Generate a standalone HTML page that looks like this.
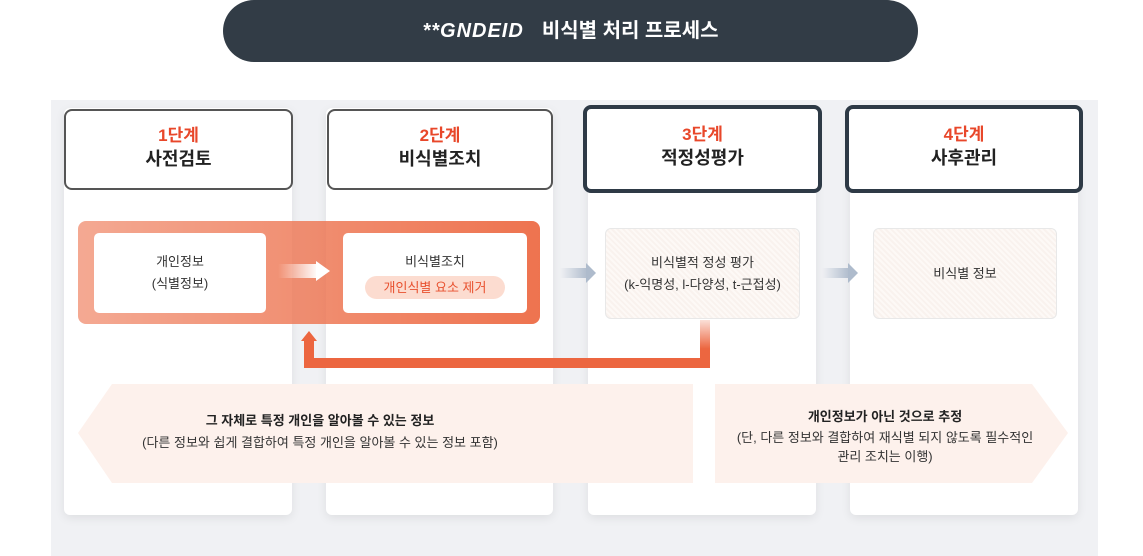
<!DOCTYPE html>
<html><head><meta charset="utf-8"><style>
*{margin:0;padding:0;box-sizing:border-box}
body{width:1143px;height:556px;background:#fff;position:relative;overflow:hidden;font-family:"Liberation Sans","Noto Sans CJK KR",sans-serif;color:#333}
.a{position:absolute}
.col{position:absolute;top:108px;height:407px;background:#fff;border-radius:6px;box-shadow:0 3px 10px rgba(0,0,0,.08)}
.hd{position:absolute;background:#fff;text-align:center;border-radius:8px}
.hd .n{color:#e8472a;font-size:17px;font-weight:bold;line-height:22px}
.hd .t{color:#222;font-size:18px;font-weight:bold;line-height:24px}
.wb{position:absolute;background:#fff;border-radius:5px;text-align:center;font-size:13px;color:#333;display:flex;flex-direction:column;justify-content:center;align-items:center;line-height:22px}
.hb{position:absolute;border-radius:6px;border:1px solid #e8e8e8;background:repeating-linear-gradient(45deg,#fdf9f6 0 2px,#f9f2ee 2px 4px);text-align:center;font-size:13px;color:#333;display:flex;flex-direction:column;justify-content:center;line-height:22px}
</style></head><body>
<div class="a" style="left:223px;top:0;width:695px;height:62px;background:#323c46;border-radius:31px;color:#fff;text-align:center;line-height:62px;font-size:20px;font-weight:bold">
<span style="font-style:italic;letter-spacing:1px;margin-right:18px">**GNDEID</span>비식별 처리 프로세스</div>
<div class="a" style="left:51px;top:100px;width:1047px;height:456px;background:#f0f1f4"></div>
<div class="col" style="left:64px;width:228px"></div>
<div class="col" style="left:326px;width:227px"></div>
<div class="col" style="left:588px;width:228px"></div>
<div class="col" style="left:850px;width:228px"></div>
<div class="hd" style="left:64px;top:109px;width:229px;height:81px;border:2px solid #555;padding-top:14px"><div class="n">1단계</div><div class="t">사전검토</div></div>
<div class="hd" style="left:327px;top:109px;width:226px;height:81px;border:2px solid #555;padding-top:14px"><div class="n">2단계</div><div class="t">비식별조치</div></div>
<div class="hd" style="left:583px;top:105px;width:239px;height:88px;border:4px solid #2e3a46;padding-top:15px"><div class="n">3단계</div><div class="t">적정성평가</div></div>
<div class="hd" style="left:845px;top:105px;width:238px;height:88px;border:4px solid #2e3a46;padding-top:15px"><div class="n">4단계</div><div class="t">사후관리</div></div>
<div class="a" style="left:78px;top:221px;width:462px;height:103px;border-radius:8px;background:linear-gradient(90deg,rgba(240,140,110,.75),rgba(236,100,60,.9))"></div>
<div class="wb" style="left:94px;top:233px;width:172px;height:80px">개인정보<br>(식별정보)</div>
<div class="a" style="left:278px;top:264px;width:40px;height:14px;background:linear-gradient(90deg,rgba(255,255,255,0),#fff)"></div>
<div class="a" style="left:316px;top:261px;width:0;height:0;border-left:14px solid #fff;border-top:10px solid transparent;border-bottom:10px solid transparent"></div>
<div class="wb" style="left:343px;top:233px;width:184px;height:80px;justify-content:flex-start;padding-top:18px">비식별조치
<div style="margin-top:3px;background:#fcdcd0;color:#e8512f;border-radius:12px;width:140px;height:23px;line-height:23px">개인식별 요소 제거</div></div>
<div class="a" style="left:560px;top:268px;width:28px;height:10px;background:linear-gradient(90deg,rgba(180,195,215,0),#aebbcc)"></div>
<div class="a" style="left:586px;top:263px;width:0;height:0;border-left:10px solid #aebbcc;border-top:10px solid transparent;border-bottom:10px solid transparent"></div>
<div class="a" style="left:822px;top:268px;width:28px;height:10px;background:linear-gradient(90deg,rgba(180,195,215,0),#aebbcc)"></div>
<div class="a" style="left:848px;top:263px;width:0;height:0;border-left:10px solid #aebbcc;border-top:10px solid transparent;border-bottom:10px solid transparent"></div>
<div class="hb" style="left:605px;top:228px;width:195px;height:91px">비식별적 정성 평가<br>(k-익명성, l-다양성, t-근접성)</div>
<div class="hb" style="left:873px;top:228px;width:184px;height:91px">비식별 정보</div>
<div class="a" style="left:700px;top:320px;width:10px;height:48px;background:linear-gradient(180deg,rgba(236,100,60,.2),#ec6640 60%)"></div>
<div class="a" style="left:304px;top:358px;width:406px;height:10px;background:#ec6640"></div>
<div class="a" style="left:304px;top:340px;width:10px;height:20px;background:#ec6640"></div>
<div class="a" style="left:301px;top:331px;width:0;height:0;border-bottom:10px solid #ec6640;border-left:8px solid transparent;border-right:8px solid transparent"></div>
<svg class="a" style="left:0;top:0" width="1143" height="556">
<polygon points="78,433 112,384 693,384 693,483 112,483" fill="#fdf1ec"/>
<polygon points="715,384 1032,384 1068,433 1032,483 715,483" fill="#fdf1ec"/>
</svg>
<div class="a" style="left:20px;top:410px;width:600px;text-align:center;font-size:13px;line-height:22px"><b style="color:#222">그 자체로 특정 개인을 알아볼 수 있는 정보</b><br>(다른 정보와 쉽게 결합하여 특정 개인을 알아볼 수 있는 정보 포함)</div>
<div class="a" style="left:715px;top:406px;width:340px;text-align:center;font-size:13px;line-height:19px"><b style="color:#222;line-height:22px">개인정보가 아닌 것으로 추정</b><br>(단, 다른 정보와 결합하여 재식별 되지 않도록 필수적인<br>관리 조치는 이행)</div>
</body></html>
